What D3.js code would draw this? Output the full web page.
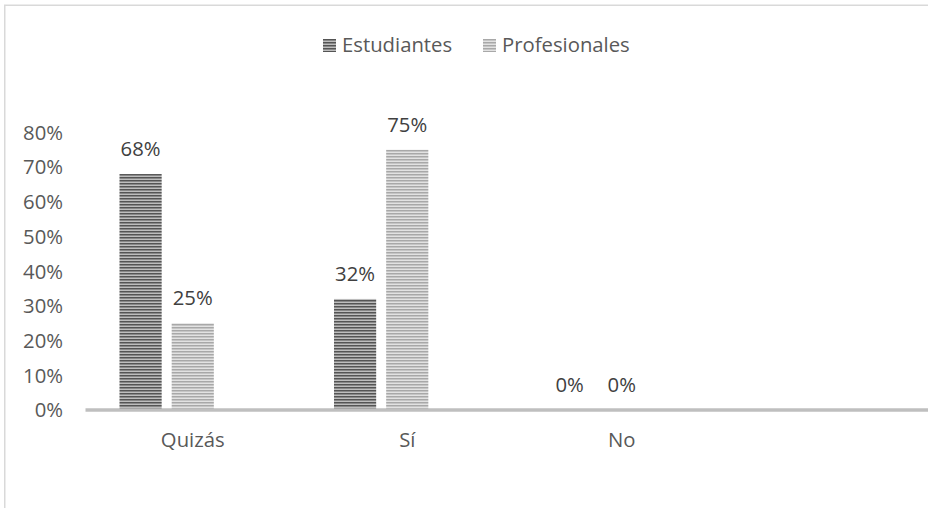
<!DOCTYPE html>
<html>
<head>
<meta charset="utf-8">
<script src="https://cdn.jsdelivr.net/npm/d3@7"></script>
<style>
  html, body { margin: 0; padding: 0; background: #fff; }
  svg { display: block; }
  text { font-family: "Open Sans", "Noto Sans", sans-serif; fill: #595959; }
</style>
</head>
<body>
<svg id="chart" width="928" height="508"></svg>
<script>
// ---- data ----
const categories = ["Quizás", "Sí", "No", ""];
const seriesNames = ["Estudiantes", "Profesionales", ""];
const estudiantes = [0.68, 0.32, 0, null];
const profesionales = [0.25, 0.75, 0, null];
const yTicks = [0, 0.1, 0.2, 0.3, 0.4, 0.5, 0.6, 0.7, 0.8];

const series = [
  { name: seriesNames[0], values: estudiantes, pat: "pat-est" },
  { name: seriesNames[1], values: profesionales, pat: "pat-pro" }
];

const svg = d3.select("#chart");
const FS = 20.3;

// patterns
const defs = svg.append("defs");
function stripe(id, dark, light) {
  const p = defs.append("pattern").attr("id", id)
    .attr("patternUnits", "userSpaceOnUse")
    .attr("width", 6).attr("height", 3);
  p.append("rect").attr("width", 6).attr("height", 3).attr("fill", light);
  p.append("rect").attr("width", 6).attr("height", 1.5).attr("fill", dark);
}
stripe("pat-est", "#545454", "#bdbdbd");
stripe("pat-pro", "#a8a8a8", "#e2e2e2");

// chart border
svg.append("rect").attr("x", 4.75).attr("y", 5.25)
  .attr("width", 960).attr("height", 540)
  .attr("fill", "none").attr("stroke", "#d9d9d9").attr("stroke-width", 1.5);

// scales
const x0 = d3.scaleBand().domain(categories.map((c, i) => i)).range([85.5, 943.5]);
const x1 = d3.scaleBand().domain([0, 1, 2]).range([29, x0.bandwidth() - 29]);
const y = d3.scaleLinear().domain([0, 0.8]).range([410, 132.4]);
const barPad = 5;

const fmt = d3.format(".0%");

// y-axis labels
svg.append("g").selectAll("text").data(yTicks).join("text")
  .attr("x", 63).attr("y", d => y(d)).attr("dy", "0.36em")
  .attr("text-anchor", "end").attr("font-size", FS)
  .text(d => fmt(d));

// bars
const g = svg.append("g");
series.forEach((s, si) => {
  s.values.forEach((v, ci) => {
    if (v === null) return;
    const bx = x0(ci) + x1(si) + barPad;
    const bw = x1.bandwidth() - 2 * barPad;
    if (v > 0) {
      g.append("rect").attr("x", bx).attr("y", y(v))
        .attr("width", bw).attr("height", y(0) - y(v))
        .attr("fill", `url(#${s.pat})`);
    }
    const cx = bx + bw / 2;
    g.append("text").attr("x", cx).attr("y", y(v) - 18)
      .attr("text-anchor", "middle").attr("font-size", FS)
      .style("fill", "#404040")
      .text(fmt(v));
  });
});

// x axis line
svg.append("line").attr("x1", x0.range()[0]).attr("x2", x0.range()[1])
  .attr("y1", y(0)).attr("y2", y(0))
  .attr("stroke", "#bfbfbf").attr("stroke-width", 3.5);

// category labels
svg.append("g").selectAll("text").data(categories).join("text")
  .attr("x", (d, i) => x0(i) + x0.bandwidth() / 2)
  .attr("y", 447).attr("text-anchor", "middle").attr("font-size", FS)
  .text(d => d);

// legend
const legendItems = [
  { name: seriesNames[0], pat: "pat-est", x: 323 },
  { name: seriesNames[1], pat: "pat-pro", x: 483 }
];
const lg = svg.append("g");
legendItems.forEach(it => {
  lg.append("rect").attr("x", it.x).attr("y", 39).attr("width", 13).attr("height", 13)
    .attr("fill", `url(#${it.pat})`);
  lg.append("text").attr("x", it.x + 19).attr("y", 52).attr("font-size", FS)
    .text(it.name);
});
</script>
</body>
</html>
